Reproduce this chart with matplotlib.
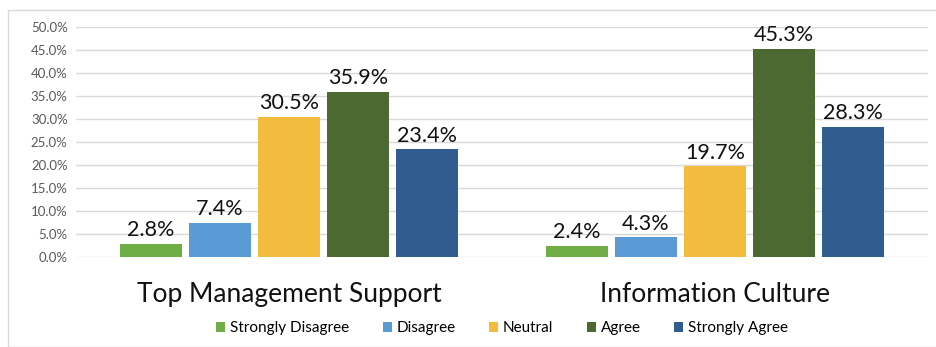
import numpy as np
import matplotlib.pyplot as plt
from matplotlib.patches import Rectangle

categories = ['Top Management Support', 'Information Culture']
responses = ['Strongly Disagree', 'Disagree', 'Neutral', 'Agree', 'Strongly Agree']
strongly_disagree = [2.8, 2.4]
disagree = [7.4, 4.3]
neutral = [30.5, 19.7]
agree = [35.9, 45.3]
strongly_agree = [23.4, 28.3]
colors = ['#70AD47', '#5B9BD5', '#F4BC3F', '#4B6930', '#305C90']

plt.rcParams['font.family'] = ['Lato', 'DejaVu Sans']

fig = plt.figure(figsize=(9.36, 3.47), dpi=100)
ax = fig.add_axes([76 / 936, 90 / 347, 852 / 936, 230 / 347])

series = [strongly_disagree, disagree, neutral, agree, strongly_agree]
x = np.arange(len(categories))
step = 0.162
width = 0.146
for i, (vals, name, c) in enumerate(zip(series, responses, colors)):
    pos = x + (i - 2) * step
    bars = ax.bar(pos, np.array(vals) / 100, width, color=c, label=name, zorder=3)
    for b, v in zip(bars, vals):
        ax.text(b.get_x() + b.get_width() / 2, b.get_height() + 0.008, f'{v:.1f}%',
                ha='center', va='bottom', fontsize=15.5, color='#111111')

ax.set_xlim(-0.5, 1.5)
ax.set_ylim(0, 0.5)
ax.set_yticks(np.arange(0, 0.51, 0.05))
ax.set_yticklabels([f'{t * 100:.1f}%' for t in np.arange(0, 0.51, 0.05)])
ax.grid(axis='y', color='#D9D9D9', linewidth=1, zorder=0)
ax.set_xticks(x)
ax.set_xticklabels(categories, fontsize=19, color='#111111')
ax.tick_params(axis='x', length=0, pad=18)
ax.tick_params(axis='y', length=0, labelsize=9.5, labelcolor='#595959', pad=6)
for s in ax.spines.values():
    s.set_visible(False)

ax.legend(loc='center', bbox_to_anchor=(0.5, -0.31), ncol=5, frameon=False,
          fontsize=11, handlelength=0.6, handleheight=0.6, handletextpad=0.3,
          columnspacing=2.2)

fig.patches.append(Rectangle((8 / 936, 0), 1, 337 / 347, transform=fig.transFigure,
                             fill=False, edgecolor='#D9D9D9', linewidth=1))

fig.savefig('out.png', dpi=100)
